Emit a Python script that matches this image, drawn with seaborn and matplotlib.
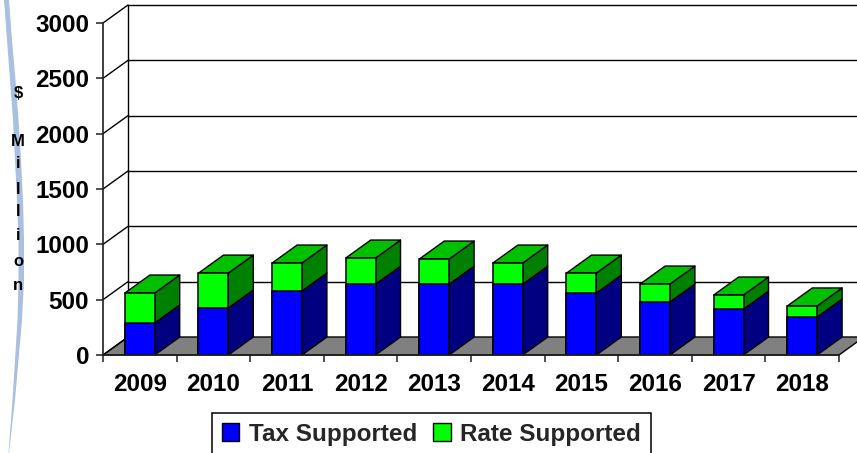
import numpy as np
import matplotlib
matplotlib.use("Agg")
import matplotlib.pyplot as plt
from matplotlib.patches import Polygon, Patch
from matplotlib.ticker import FixedLocator
import seaborn as sns

years = ["2009", "2010", "2011", "2012", "2013", "2014", "2015", "2016", "2017", "2018"]
tax_supported = [290, 425, 578, 640, 640, 640, 560, 479, 415, 343]
rate_supported = [270, 315, 253, 236, 227, 191, 180, 162, 127, 100]
y_ticks = [0, 500, 1000, 1500, 2000, 2500, 3000]
y_label_letters = ["$", "M", "i", "l", "l", "i", "o", "n"]

sns.set_theme(style="white")
plt.rcParams["font.family"] = ["Liberation Sans", "DejaVu Sans"]
plt.rcParams["font.weight"] = "bold"

W, H = 857, 453
fig = plt.figure(figsize=(W / 100, H / 100), dpi=100)
ax = fig.add_axes([103 / W, (H - 355) / H, 736 / W, 332 / H])

tax = np.array(tax_supported, float)
rate = np.array(rate_supported, float)
total = tax + rate
xs = np.arange(len(years))
bw = 0.405
dx = 25 / 73.6          # depth in category units
dy = 18 / (332 / 3000)  # depth in value units
EDGE = "black"

sns.barplot(x=years, y=total, color="#00FF00", width=bw, saturation=1,
            edgecolor=EDGE, linewidth=1.1, ax=ax, zorder=5)
sns.barplot(x=years, y=tax, color="#0000FF", width=bw, saturation=1,
            edgecolor=EDGE, linewidth=1.1, ax=ax, zorder=6)

ax.set_xlim(-0.5, len(years) - 0.5)
ax.set_ylim(0, 3000)
ax.set_xlabel("")
ax.set_ylabel("")

def poly(pts, fc, z, lw=1.0, ec=EDGE):
    ax.add_patch(Polygon(pts, closed=True, facecolor=fc, edgecolor=ec, linewidth=lw,
                         zorder=z, clip_on=False, joinstyle="round"))

x0, x1 = -0.5, len(years) - 0.5
# floor
poly([(x0, 0), (x0 + dx, dy), (x1 + dx, dy), (x1, 0)], "#808080", 2)
# back wall grid + left wall diagonals
for v in y_ticks:
    if v > 0:
        ax.plot([x0 + dx, x1 + dx], [v + dy, v + dy], color="black", lw=1.0, zorder=1, clip_on=False)
    ax.plot([x0, x0 + dx], [v, v + dy], color="black", lw=1.0, zorder=3, clip_on=False)
ax.plot([x0 + dx, x0 + dx], [dy, 3000 + dy], color="black", lw=1.0, zorder=1, clip_on=False)

# 3-D faces of the bars
for x, t, tot in zip(xs, tax, total):
    r = x + bw / 2
    l = x - bw / 2
    poly([(r, 0), (r + dx, dy), (r + dx, t + dy), (r, t)], "#000080", 4)
    poly([(r, t), (r + dx, t + dy), (r + dx, tot + dy), (r, tot)], "#008000", 4)
    poly([(l, tot), (l + dx, tot + dy), (r + dx, tot + dy), (r, tot)], "#00C000", 4)

# axes
for s in ["top", "right"]:
    ax.spines[s].set_visible(False)
for s in ["left", "bottom"]:
    ax.spines[s].set_color("#202020")
    ax.spines[s].set_linewidth(1.2)
    ax.spines[s].set_zorder(7)
ax.set_yticks(y_ticks)
ax.set_yticklabels([str(v) for v in y_ticks], fontsize=17.5, fontweight="bold", color="black")
ax.set_xticks(xs)
ax.set_xticklabels(years, fontsize=17.5, fontweight="bold", color="black")
ax.xaxis.set_minor_locator(FixedLocator(np.arange(-0.5, len(years))))
ax.tick_params(axis="x", which="major", length=0, pad=13)
ax.tick_params(axis="x", which="minor", length=5, width=1.1, color="#202020", bottom=True)
ax.tick_params(axis="y", length=5, width=1.1, color="#202020", pad=5, left=True)

# decorative swoosh
bg = fig.add_axes([0, 0, 1, 1], zorder=-1)
bg.set_xlim(0, W)
bg.set_ylim(H, 0)
bg.axis("off")
sy = np.array([0, 40, 80, 120, 160, 200, 240, 280, 320, 360, 400, 453])
sl = np.array([4, 7, 10, 13, 15, 17, 18.5, 18.5, 17.5, 15, 12.5, 8.5])
sr = np.array([9, 12, 15.5, 18.5, 21, 23, 24, 24, 22, 18.5, 15, 9])
bg.fill_betweenx(sy, sl, sr, color="#A9C0E0", lw=0)

# vertical letters of the axis title
y_positions = [93, 141, 163, 190, 212, 235, 261, 285]
for ch, yp in zip(y_label_letters, y_positions):
    fig.text(18 / W, 1 - yp / H, ch, ha="center", va="center", fontsize=12, fontweight="bold", color="black")

handles = [Patch(facecolor="#0000FF", edgecolor="black", label="Tax Supported"),
           Patch(facecolor="#00FF00", edgecolor="black", label="Rate Supported")]
leg = fig.legend(handles=handles, loc="center", bbox_to_anchor=(431.5 / W, 1 - 434 / H), ncol=2,
                 frameon=True, fancybox=False, edgecolor="black", framealpha=1,
                 prop={"size": 17.5, "weight": "bold"}, handlelength=0.72, handleheight=0.72,
                 handletextpad=0.4, columnspacing=0.65, borderpad=0.4, borderaxespad=0)
leg.get_frame().set_linewidth(1.1)

fig.savefig("out.png", dpi=100, facecolor="white")
